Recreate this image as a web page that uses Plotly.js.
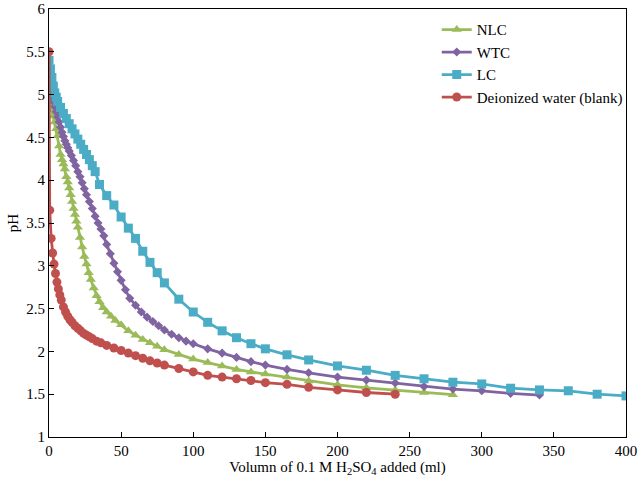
<!DOCTYPE html>
<html>
<head>
<meta charset="utf-8">
<script src="https://cdn.plot.ly/plotly-3.0.1.min.js"></script>
<style>html,body{margin:0;padding:0;background:#fff;}#chart{width:638px;height:478px;}</style>
</head>
<body>
<div id="chart"></div>
<script>
// NLC
const nlcX = [0,1,2,3,4,5,6,7,8,9,10,11,12,13,14,15,16,17,18,19,20,21.5,23,24.5,26,27.5,29,31,33,35,37.5,40,43,46,50,55,60,65,70,75,80,90,100,110,120,130,140,150,165,180,200,220,240,260,280];
const nlcY = [4.98,4.90,4.82,4.75,4.68,4.60,4.52,4.40,4.30,4.24,4.19,4.13,4.04,3.98,3.91,3.83,3.75,3.67,3.60,3.52,3.45,3.33,3.22,3.11,3.02,2.92,2.84,2.74,2.65,2.58,2.51,2.46,2.41,2.36,2.31,2.24,2.19,2.14,2.10,2.06,2.02,1.965,1.91,1.87,1.83,1.79,1.76,1.735,1.70,1.655,1.61,1.575,1.55,1.52,1.495];
// WTC
const wtcX = [0,1,2,3,4,5,6,7,8,9,10,11,12,13,14,15.5,17,18.5,20,21.5,23,24.5,26,28,30,32,34,36,38,40,42.5,45,47.5,50,53,56,60,64,68,72,76,80,85,90,95,100,110,120,130,140,150,165,180,200,220,240,260,280,300,320,340];
const wtcY = [5.38,5.10,4.98,4.92,4.86,4.80,4.74,4.68,4.62,4.56,4.51,4.46,4.42,4.38,4.34,4.29,4.23,4.17,4.10,4.04,3.97,3.90,3.83,3.75,3.67,3.58,3.50,3.43,3.35,3.25,3.14,3.03,2.93,2.83,2.72,2.62,2.54,2.46,2.40,2.35,2.30,2.25,2.20,2.16,2.12,2.09,2.03,1.98,1.93,1.88,1.84,1.79,1.75,1.70,1.665,1.63,1.59,1.56,1.54,1.51,1.49];
// LC
const lcX = [0,1,2,3,4,5,6,8,10,12,14,16,18,20,22,24,26,28,30,32,35,40,45,50,55,60,65,70,75,80,90,100,110,120,130,140,150,165,180,200,220,240,260,280,300,320,340,360,380,400];
const lcY = [5.40,5.30,5.20,5.10,5.02,4.97,4.92,4.85,4.78,4.72,4.66,4.60,4.54,4.48,4.42,4.36,4.30,4.24,4.17,4.10,3.95,3.82,3.71,3.57,3.44,3.32,3.17,3.04,2.92,2.80,2.61,2.46,2.34,2.24,2.16,2.09,2.03,1.96,1.90,1.83,1.78,1.72,1.68,1.64,1.62,1.57,1.55,1.54,1.50,1.48];
// Deionized water (blank)
const blankX = [0,0.5,1.5,2.5,3.5,4.5,5.5,6.5,7.5,8.5,10,11.5,13,14.5,16,18,20,22,24,26,28,30,33,36,40,45,50,55,60,65,70,75,80,90,100,110,120,130,140,150,165,180,200,220,240];
const blankY = [5.5,3.65,3.32,3.15,3.02,2.91,2.81,2.73,2.66,2.60,2.52,2.46,2.41,2.37,2.34,2.30,2.27,2.24,2.21,2.19,2.17,2.15,2.12,2.10,2.07,2.04,2.01,1.98,1.95,1.92,1.89,1.865,1.84,1.80,1.76,1.72,1.70,1.68,1.66,1.635,1.615,1.58,1.55,1.52,1.50];

const names = ['NLC','WTC','LC','Deionized water (blank)'];
const colors = ['#9BBB59','#8064A2','#4BACC6','#C0504D'];
const symbols = ['triangle-up','diamond','square','circle'];
const sizes = [9,7,9,9];
const xs = [nlcX,wtcX,lcX,blankX];
const ys = [nlcY,wtcY,lcY,blankY];

const traces = names.map((n,i)=>({
  x: xs[i], y: ys[i], name: n, type: 'scatter', mode: 'lines+markers',
  line: {color: colors[i], width: 2.8},
  marker: {color: colors[i], symbol: symbols[i], size: sizes[i]}
}));

const font = {family: '"Liberation Serif","Times New Roman",serif', size: 15, color: '#000'};
const layout = {
  width: 638, height: 478,
  margin: {l: 49, r: 12, t: 9, b: 41, pad: 0},
  paper_bgcolor: '#fff', plot_bgcolor: '#fff',
  font: font,
  showlegend: true,
  legend: {x: 0.672, y: 0.99, xanchor: 'left', yanchor: 'top', bgcolor: 'rgba(0,0,0,0)',
           font: font, tracegroupgap: 0, itemwidth: 30},
  xaxis: {range: [0,400], dtick: 50, tick0: 0, showgrid: false, zeroline: false,
          showline: true, linecolor: '#000', linewidth: 1, mirror: true,
          ticks: 'inside', ticklen: 5, tickcolor: '#000', tickfont: font,
          title: {text: 'Volumn of 0.1 M H<sub>2</sub>SO<sub>4</sub> added (ml)', font: font, standoff: 3}},
  yaxis: {range: [1,6], dtick: 0.5, tick0: 1, showgrid: false, zeroline: false,
          showline: true, linecolor: '#000', linewidth: 1, mirror: true,
          ticks: 'inside', ticklen: 5, tickcolor: '#000', tickfont: font,
          title: {text: 'pH', font: font, standoff: 4}}
};
Plotly.newPlot('chart', traces, layout, {displayModeBar: false, staticPlot: true});
</script>
</body>
</html>
